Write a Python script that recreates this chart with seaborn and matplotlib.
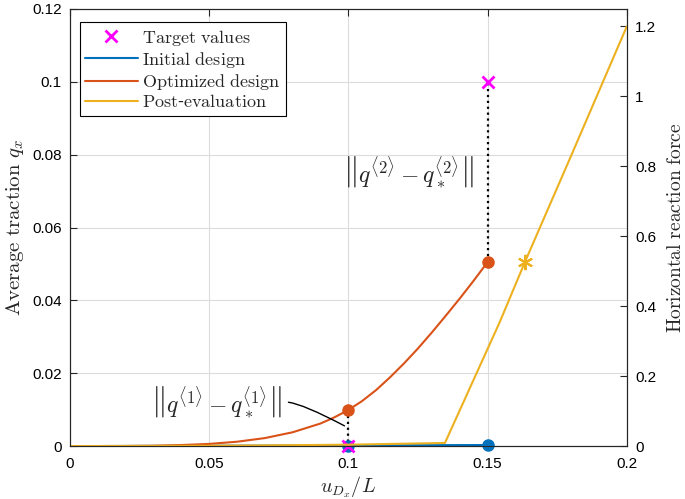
import matplotlib
matplotlib.use("Agg")
import matplotlib.pyplot as plt
from matplotlib.lines import Line2D
import seaborn as sns

# displacement u_Dx / L
x_opt = [0.0, 0.02, 0.03, 0.04, 0.05, 0.06, 0.07, 0.08, 0.09, 0.095, 0.1, 0.105, 0.11,
         0.115, 0.12, 0.125, 0.13, 0.135, 0.14, 0.145, 0.15]
q_opt = [0.0, 0.00003, 0.0001, 0.0003, 0.0006, 0.0012, 0.0022, 0.0038, 0.0062, 0.0079,
         0.0099, 0.0124, 0.0154, 0.0189, 0.0227, 0.0268, 0.0312, 0.0358, 0.0405, 0.0454,
         0.0505]

x_init = [0.0, 0.05, 0.1, 0.15]
q_init = [0.0, 0.0001, 0.0002, 0.0003]

x_post = [0.0, 0.05, 0.1, 0.1347, 0.1544, 0.1634, 0.18, 0.19, 0.2]
f_post = [0.0, 0.001, 0.004, 0.009, 0.355, 0.526, 0.83, 1.015, 1.2]

x_target = [0.1, 0.15]
q_target = [0.0, 0.1]

x_opt_pts = [0.1, 0.15]
q_opt_pts = [0.0099, 0.0505]
x_init_pts = [0.1, 0.15]
q_init_pts = [0.0, 0.0003]
x_star = [0.1634]
f_star = [0.526]

blue = "#0072BD"
orange = "#D95319"
yellow = "#EDB120"
magenta = "#FF00FF"

sns.set_theme(style="white")
plt.rcParams["font.family"] = ["Liberation Sans", "DejaVu Sans"]
plt.rcParams["mathtext.fontset"] = "cm"
plt.rcParams["xtick.direction"] = "in"
plt.rcParams["ytick.direction"] = "in"

fig = plt.figure(figsize=(6.85, 4.99), dpi=100)
ax = fig.add_axes([0.102, 0.106, 0.813, 0.876])
ax2 = ax.twinx()

# left axis: traction
sns.lineplot(x=x_init, y=q_init, ax=ax, color=blue, lw=1.5, legend=False)
sns.lineplot(x=x_opt, y=q_opt, ax=ax, color=orange, lw=1.5, legend=False)
ax.plot(x_init_pts, q_init_pts, "o", color=blue, ms=8, zorder=4, clip_on=False)
ax.plot(x_opt_pts, q_opt_pts, "o", color=orange, ms=8, zorder=4)
ax.plot([x_opt_pts[0], x_target[0]], [q_opt_pts[0], q_target[0]], ":", color="black", lw=1.6)
ax.plot([x_opt_pts[1], x_target[1]], [q_opt_pts[1], q_target[1]], ":", color="black", lw=1.6)
ax.plot(x_target, q_target, "x", color=magenta, ms=9, mew=2, zorder=6, clip_on=False)

# right axis: post-evaluation reaction force
sns.lineplot(x=x_post, y=f_post, ax=ax2, color=yellow, lw=1.5, legend=False)
ax2.plot(x_star, f_star, marker=(6, 2, 0), color=yellow, ms=11, mew=1.5)

ax.set_xlim(0, 0.2)
ax.set_ylim(0, 0.12)
ax2.set_ylim(0, 1.25)
ax.set_xticks([0, 0.05, 0.1, 0.15, 0.2])
ax.set_xticklabels(["0", "0.05", "0.1", "0.15", "0.2"])
ax.set_yticks([0, 0.02, 0.04, 0.06, 0.08, 0.1, 0.12])
ax.set_yticklabels(["0", "0.02", "0.04", "0.06", "0.08", "0.1", "0.12"])
ax2.set_yticks([0, 0.2, 0.4, 0.6, 0.8, 1.0, 1.2])
ax2.set_yticklabels(["0", "0.2", "0.4", "0.6", "0.8", "1", "1.2"])

ax.grid(True, color="#dcdcdc", lw=0.8)
ax.set_axisbelow(True)
ax.tick_params(axis="both", labelsize=11, length=5, width=0.8, color="#262626",
               top=True, labelcolor="black")
ax.tick_params(axis="x", pad=8)
ax.tick_params(axis="y", right=False, pad=6)
ax2.tick_params(axis="y", labelsize=11, length=5, width=0.8, labelcolor="black", pad=6)
for a in (ax, ax2):
    for s in a.spines.values():
        s.set_color("#262626")
        s.set_linewidth(0.8)

ax.set_xlabel(r"$u_{D_x}/L$", fontsize=14.5, labelpad=2)
ax.set_ylabel(r"$\mathrm{Average\ traction}\ q_x$", fontsize=15, labelpad=4)
ax2.set_ylabel(r"$\mathrm{Horizontal\ reaction\ force}$", fontsize=14, labelpad=8)

# annotations
ax.text(0.1215, 0.0752, r"$\left\|q^{\langle 2\rangle} - q_*^{\langle 2\rangle}\right\|$",
        fontsize=17, ha="center", va="center")
ax.text(0.0525, 0.0121, r"$\left\|q^{\langle 1\rangle} - q_*^{\langle 1\rangle}\right\|$",
        fontsize=17, ha="center", va="center")
ax.annotate("", xy=(0.0995, 0.0052), xytext=(0.0775, 0.0121),
            arrowprops=dict(arrowstyle="-", color="black", lw=1,
                            connectionstyle="angle3,angleA=0,angleB=-28"))

handles = [
    Line2D([], [], ls="none", marker="x", color=magenta, ms=9, mew=2),
    Line2D([], [], color=blue, lw=1.5),
    Line2D([], [], color=orange, lw=1.5),
    Line2D([], [], color=yellow, lw=1.5),
]
labels = [r"$\mathrm{Target\ values}$", r"$\mathrm{Initial\ design}$",
          r"$\mathrm{Optimized\ design}$", r"$\mathrm{Post}$-$\mathrm{evaluation}$"]
leg = ax2.legend(handles, labels, loc="upper left", bbox_to_anchor=(0.018, 0.97),
                 borderaxespad=0, fontsize=13, frameon=True, fancybox=False,
                 edgecolor="black", handlelength=2.9, handletextpad=0.25,
                 labelspacing=0.12, borderpad=0.3, framealpha=1)
leg.get_frame().set_linewidth(0.8)

fig.savefig("out.png", dpi=100)
